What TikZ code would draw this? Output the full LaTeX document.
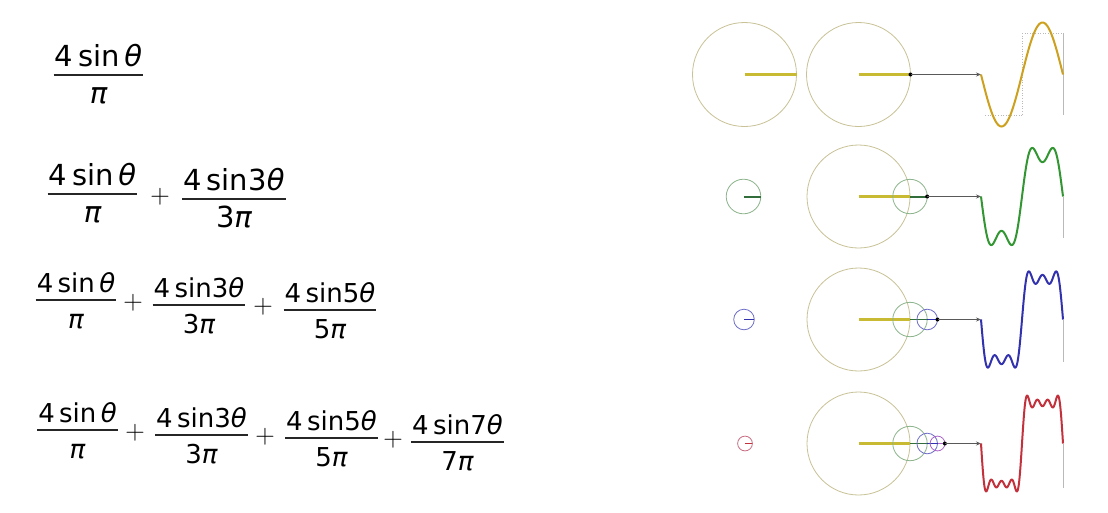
\documentclass[tikz,border=0pt]{standalone}
\usepackage{fontspec}
\newfontfamily\djs{DejaVu Sans}
\usetikzlibrary{arrows.meta}
\definecolor{circ}{RGB}{200,194,150}
\definecolor{radius}{RGB}{200,186,50}
\definecolor{gold}{RGB}{205,160,30}
\definecolor{gcirc}{RGB}{140,180,140}
\definecolor{gline}{RGB}{50,110,60}
\definecolor{gwave}{RGB}{50,150,50}
\definecolor{bcirc}{RGB}{110,110,200}
\definecolor{bwave}{RGB}{50,50,175}
\definecolor{rcirc}{RGB}{200,110,130}
\definecolor{rwave}{RGB}{195,50,60}
\definecolor{pcirc}{RGB}{170,100,200}
\definecolor{guide}{RGB}{185,185,185}
\newcommand\fracnode[7]{% name, x, bar y, num, den, style, num gap
  \node[#6] (#1-n) at (#2,#3-#7) {#4};
  \node[#6] (#1-d) at (#2,#3+28) {#5};
  \draw[fracbar] ([xshift=-1pt]#1-n.west |- 0,#3) -- ([xshift=1pt]#1-n.east |- 0,#3);}
\tikzset{
  bigfr/.style={font=\djs\fontsize{29}{34}\selectfont, inner sep=0pt, anchor=base},
  smallfr/.style={font=\djs\fontsize{26}{31}\selectfont, inner sep=0pt, anchor=base},
  fracbar/.style={line width=1.4pt, draw=black!85},
  plusst/.style={font=\fontsize{27}{30}\selectfont, inner sep=0pt},
  circst/.style={draw=circ, line width=0.8pt},
  radst/.style={draw=radius, line width=2.6pt},
  arrowst/.style={draw=black!65, line width=0.8pt, -{Stealth[length=5pt,width=4pt]}},
  guidest/.style={draw=guide, line width=0.6pt, dotted},
  wavest/.style={line width=2pt, line join=round},
}
\newcommand\thet{\,{\itshape θ}}
\newcommand\thetb{{\itshape θ}}
\newcommand\pii{{\itshape π}}
\begin{document}
\begin{tikzpicture}[x=1pt,y=-1pt]
\path[use as bounding box, fill=white] (0,0) rectangle (1108,512);

% ---------- formulas ----------
\fracnode{r1a}{98.5}{75}{4\,sin\thet}{\pii}{bigfr}{9}

\fracnode{r2a}{92.5}{194}{4\,sin\thet}{\pii}{bigfr}{9}
\node[plusst] (r2p1) at (160,197) {+};
\fracnode{r2b}{234}{199}{4\,sin3\thetb}{3\pii}{bigfr}{9}

\fracnode{r3a}{76}{300}{4\,sin\thet}{\pii}{smallfr}{8}
\node[plusst] (r3p1) at (133,303) {+};
\fracnode{r3b}{199}{305}{4\,sin3\thetb}{3\pii}{smallfr}{8}
\node[plusst] (r3p2) at (263,307) {+};
\fracnode{r3c}{330}{310}{4\,sin5\thetb}{5\pii}{smallfr}{8}

\fracnode{r4a}{77.5}{430}{4\,sin\thet}{\pii}{smallfr}{8}
\node[plusst] (r4p1) at (135,433) {+};
\fracnode{r4b}{201.5}{435}{4\,sin3\thetb}{3\pii}{smallfr}{8}
\node[plusst] (r4p2) at (265,437) {+};
\fracnode{r4c}{331.5}{438}{4\,sin5\thetb}{5\pii}{smallfr}{8}
\node[plusst] (r4p3) at (393,440) {+};
\fracnode{r4d}{457.5}{442}{4\,sin7\thetb}{7\pii}{smallfr}{8}

% ---------- row 1 ----------
\draw[circst] (744.5,74.5) circle (52);
\draw[radst] (744.5,74.5) -- (796.5,74.5);
\draw[circst] (858.5,74.5) circle (52);
\draw[radst] (858.5,74.5) -- (910.5,74.5);
\coordinate (r1end) at (910.5,74.5);
\coordinate (r1tip) at (981,74.5);
\fill[black] (r1end) circle (2);
\draw[arrowst] (r1end) -- (r1tip);
\draw[guidest] (1022,33) -- (1063,33);
\draw[guidest] (985,115) -- (1022,115);
\draw[guidest] (1022,33) -- (1022,115);
\draw[draw=guide, line width=0.6pt] (1063,33) -- (1063,115);
\draw[wavest, draw=gold] plot[domain=0:360, samples=181] ({981+\x/360*82},{74.5+52*sin(\x)});

% ---------- row 2 ----------
\draw[draw=gcirc, line width=0.8pt] (743.5,196.5) circle (17.3);
\draw[draw=gline, line width=2pt] (743.5,196.5) -- (760.8,196.5);
\draw[circst] (858.5,196.5) circle (51.5);
\draw[radst] (858.5,196.5) -- (910,196.5);
\draw[draw=gcirc, line width=0.8pt] (910,196.5) circle (17.2);
\draw[draw=gline, line width=2pt] (910,196.5) -- (927.2,196.5);
\coordinate (r2end) at (927.2,196.5);
\coordinate (r2tip) at (981,196.5);
\fill[black] (r2end) circle (2);
\draw[arrowst] (r2end) -- (r2tip);
\draw[draw=guide, line width=0.5pt] (1063,196.5) -- (1063,238);
\draw[wavest, draw=gwave] plot[domain=0:360, samples=241]
  ({981+\x/360*82},{196.5+51.5*(sin(\x)+sin(3*\x)/3)});

% ---------- row 3 ----------
\draw[draw=bcirc, line width=0.8pt] (744,319.5) circle (10.3);
\draw[draw=bwave, line width=1.6pt] (744,319.5) -- (754.3,319.5);
\draw[circst] (858.5,319.5) circle (51.5);
\draw[radst] (858.5,319.5) -- (910,319.5);
\draw[draw=gcirc, line width=0.8pt] (910,319.5) circle (17.2);
\draw[draw=gline, line width=1.6pt] (910,319.5) -- (927.2,319.5);
\draw[draw=bcirc, line width=0.8pt] (927.2,319.5) circle (10.3);
\draw[draw=bwave, line width=1.6pt] (927.2,319.5) -- (937.5,319.5);
\coordinate (r3end) at (937.5,319.5);
\coordinate (r3tip) at (981,319.5);
\fill[black] (r3end) circle (2);
\draw[arrowst] (r3end) -- (r3tip);
\draw[draw=guide, line width=0.5pt] (1063,319.5) -- (1063,362);
\draw[wavest, draw=bwave] plot[domain=0:360, samples=361]
  ({981+\x/360*82},{319.5+51.5*(sin(\x)+sin(3*\x)/3+sin(5*\x)/5)});

% ---------- row 4 ----------
\draw[draw=rcirc, line width=0.8pt] (745,443.5) circle (7.4);
\draw[draw=rwave, line width=1.6pt] (745,443.5) -- (752.4,443.5);
\draw[circst] (858.5,443.5) circle (51.5);
\draw[radst] (858.5,443.5) -- (910,443.5);
\draw[draw=gcirc, line width=0.8pt] (910,443.5) circle (17.2);
\draw[draw=gline, line width=1.4pt] (910,443.5) -- (927.2,443.5);
\draw[draw=bcirc, line width=0.8pt] (927.2,443.5) circle (10.3);
\draw[draw=bwave, line width=1.4pt] (927.2,443.5) -- (937.5,443.5);
\draw[draw=pcirc, line width=0.8pt] (937.5,443.5) circle (7.4);
\draw[draw=pcirc, line width=1.4pt] (937.5,443.5) -- (944.9,443.5);
\coordinate (r4end) at (944.9,443.5);
\coordinate (r4tip) at (981,443.5);
\fill[black] (r4end) circle (2);
\draw[arrowst] (r4end) -- (r4tip);
\draw[draw=guide, line width=0.5pt] (1063,443.5) -- (1063,488);
\draw[wavest, draw=rwave] plot[domain=0:360, samples=481]
  ({981+\x/360*82},{443.5+51.5*(sin(\x)+sin(3*\x)/3+sin(5*\x)/5+sin(7*\x)/7)});
\end{tikzpicture}
\end{document}
